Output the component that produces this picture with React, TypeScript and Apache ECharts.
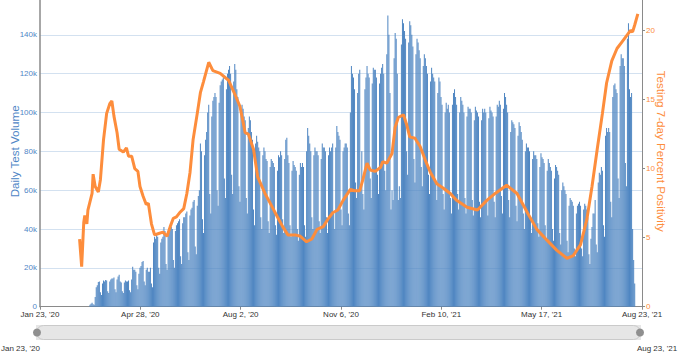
import React, { useEffect, useRef } from 'react';
import * as echarts from 'echarts';

// x axis: day index from Jan 23, 2020 (0) to Aug 23, 2021 (578)
const totalDays = 578;
const xTickLabels = ["Jan 23, '20", "Apr 28, '20", "Aug 2, '20", "Nov 6, '20", "Feb 10, '21", "May 17, '21", "Aug 23, '21"];

// Daily test volume in thousands, one row per week (Thu..Wed)
const testsWeeksA = [
  [0, 0, 0, 0, 0, 0, 0], [0, 0, 0, 0, 0, 0, 0], [0, 0, 0, 0, 0, 0, 0], [0, 0, 0, 0, 0, 0, 0],
  [0, 0, 0, 0, 0, 0, 0], [0, 0, 0, 0, 0, 0, 0], [0, 0, 0, 0, 0, 0, 1],
  [1.5, 2, 1.2, 1, 5, 10, 11],
  [12.7, 13, 7.5, 6, 12, 13.5, 13],
  [13.8, 13.5, 8, 7, 13, 14, 14.5],
  [14.5, 15, 9, 7.5, 14, 15.5, 16.5],
  [13, 12.5, 8, 7, 12.5, 13.5, 13],
  [13, 13.5, 8.5, 7.5, 14, 20.6, 19],
  [19, 18, 11, 9, 17, 20, 21],
  [23, 23.5, 13, 11, 19, 20, 18],
  [18, 20, 12, 10, 33, 36, 35],
  [37.5, 36, 20, 17, 33, 35, 36],
  [41, 39, 22, 19, 38, 40, 41],
  [41, 40, 24, 20, 39, 42, 43],
  [44, 45, 26, 22, 43, 46, 46],
  [48, 49, 28, 24, 47, 50, 51],
  [54, 55, 31, 27, 52, 57, 60],
  [84, 80, 45, 38, 78, 86, 90],
];
const testsWeeksB = [
  [100, 104, 58, 48, 98, 106, 108],
  [110, 108, 60, 52, 105, 114, 116],
  [117, 118, 66, 56, 112, 120, 122],
  [124, 120, 68, 58, 116, 125, 122],
  [112, 108, 62, 54, 100, 104, 102],
  [98, 96, 56, 48, 92, 98, 96],
  [90, 86, 50, 42, 84, 88, 85],
  [82, 80, 46, 40, 78, 82, 80],
  [76, 75, 44, 38, 72, 76, 75],
  [74, 72, 42, 37, 70, 78, 77],
  [80, 78, 45, 38, 76, 86, 87],
  [78, 74, 42, 36, 70, 75, 73],
  [72, 70, 40, 34, 68, 74, 72],
  [74, 72, 42, 36, 80, 92, 88],
  [84, 80, 46, 40, 78, 82, 80],
  [80, 78, 44, 38, 76, 84, 82],
  [82, 80, 46, 38, 78, 82, 80],
  [82, 84, 48, 40, 82, 93, 90],
  [88, 86, 50, 42, 80, 82, 84],
  [84, 82, 48, 42, 100, 124, 120],
  [118, 112, 64, 56, 110, 120, 122],
  [60, 80, 58, 50, 112, 118, 124],
  [120, 118, 66, 56, 115, 123, 122],
  [122, 118, 68, 58, 115, 120, 123],
  [125, 120, 70, 60, 130, 150, 140],
  [110, 50, 60, 55, 128, 141, 138],
];
const testsWeeksC = [
  [120, 55, 62, 56, 135, 148, 146],
  [142, 138, 80, 68, 136, 147, 145],
  [140, 134, 76, 64, 130, 138, 136],
  [132, 128, 72, 62, 124, 130, 128],
  [124, 120, 68, 58, 116, 123, 120],
  [118, 116, 64, 55, 110, 118, 116],
  [108, 104, 58, 50, 100, 105, 102],
  [104, 100, 56, 48, 104, 110, 112],
  [108, 104, 58, 50, 100, 108, 106],
  [104, 100, 56, 48, 98, 103, 102],
  [102, 100, 55, 47, 96, 103, 101],
  [100, 98, 54, 46, 96, 102, 100],
  [102, 100, 55, 47, 97, 103, 101],
  [100, 98, 54, 46, 98, 104, 103],
  [106, 104, 57, 48, 102, 110, 108],
  [104, 100, 55, 46, 90, 96, 95],
  [94, 92, 52, 44, 88, 95, 93],
  [90, 86, 48, 40, 80, 84, 82],
  [82, 80, 45, 38, 76, 80, 78],
  [78, 76, 43, 36, 72, 79, 77],
  [76, 74, 42, 35, 70, 76, 74],
  [72, 70, 40, 34, 66, 73, 72],
];
const testsWeeksD = [
  [70, 68, 38, 32, 60, 64, 62],
  [60, 58, 34, 28, 52, 56, 55],
  [54, 52, 30, 26, 48, 52, 53],
  [54, 52, 30, 26, 50, 53, 52],
  [50, 46, 27, 22, 35, 41, 48],
  [48, 55, 32, 28, 64, 69, 68],
  [72, 70, 42, 36, 88, 92, 90],
  [92, 90, 54, 46, 108, 114, 115],
  [112, 110, 66, 56, 124, 130, 128],
  [128, 124, 74, 62, 138, 146, 112],
  [108, 110, 40, 24, 12, 0, 0],
  [0, 0, 0, 0, 0],
];

// 7-day percent positivity: day index and value
const positivityDays = [
  38, 40, 42, 43, 45, 46, 50, 51, 53, 56, 58, 61, 64, 67, 69, 71, 74, 76, 80, 83,
  85, 88, 91, 94, 96, 99, 102, 104, 107, 110, 114, 118, 122, 125, 128, 131, 134, 138, 141, 144,
  147, 151, 154, 157, 162, 166, 173, 181, 187, 192, 197, 200, 205, 209, 216, 221, 228, 233, 238, 245,
  250, 256, 261, 266, 272, 277, 281, 286, 291, 298, 302, 307, 310, 314, 317, 322, 327, 329, 333, 338,
  341, 344, 349, 352, 355, 360, 365, 370, 375, 381, 387, 394, 400, 410, 420, 429, 437, 448, 458, 468,
  477, 487, 496, 506, 512, 519, 525, 530, 535, 540, 544, 549, 554, 559, 564, 567, 569, 571, 574,
];
const positivityValues = [
  4.9, 2.9, 6.1, 6.6, 6.0, 7.0, 8.2, 9.6, 8.7, 8.3, 9.2, 12.1, 14.0, 14.7, 14.9, 13.8, 12.6, 11.4, 11.2, 11.5,
  10.9, 10.9, 10.0, 9.8, 8.7, 8.0, 7.4, 7.5, 6.0, 5.2, 5.3, 5.4, 5.1, 5.8, 6.4, 6.5, 6.8, 7.1, 8.2, 9.7,
  12.1, 14.0, 15.5, 16.3, 17.7, 17.1, 16.9, 16.4, 15.4, 14.5, 12.6, 12.5, 11.4, 9.4, 8.2, 7.5, 6.5, 5.8, 5.2, 5.2,
  5.1, 4.7, 4.9, 5.6, 5.8, 6.4, 6.8, 7.0, 7.7, 8.5, 8.4, 8.4, 9.2, 10.4, 9.9, 9.8, 10.1, 10.5, 10.4, 11.1,
  13.0, 13.7, 13.9, 13.2, 12.3, 12.2, 11.6, 10.6, 9.7, 8.9, 8.6, 8.2, 7.7, 7.2, 7.0, 7.7, 8.2, 8.8, 8.2, 6.8,
  5.6, 4.8, 4.1, 3.5, 3.7, 4.5, 6.3, 8.7, 11.4, 14.0, 16.2, 17.8, 18.7, 19.2, 19.7, 20.0, 19.9, 20.4, 21.2,
];

const FONT = "'Liberation Sans', Arial, sans-serif";
const BLUE_TEXT = '#4f86c6';
const ORANGE = '#fd8d3c';

export default function App() {
  const ref = useRef<HTMLDivElement>(null);
  useEffect(() => {
    document.body.style.margin = '0';
    const chart = echarts.init(ref.current!, undefined, { renderer: 'svg' });
    const daily = [...testsWeeksA, ...testsWeeksB, ...testsWeeksC, ...testsWeeksD].flat();
    const barData = daily.map((v, i) => [i, v * 1000]);
    const lineData = positivityDays.map((d, i) => [d, positivityValues[i]]);
    const step = totalDays / 6;
    chart.setOption({
      animation: false,
      textStyle: { fontFamily: FONT },
      grid: { left: 40, right: 48, top: -4, bottom: 53.3, outerBoundsMode: 'none', containLabel: false },
      xAxis: {
        type: 'value', min: 0, max: totalDays, interval: step,
        axisLine: { show: true, lineStyle: { color: '#8a8a8a', width: 1 } },
        axisTick: { show: true, length: 3, lineStyle: { color: '#8a8a8a' } },
        axisLabel: {
          fontSize: 8, color: '#333', margin: 4, fontFamily: FONT,
          formatter: (v: number) => xTickLabels[Math.round(v / step)] ?? '',
        },
        splitLine: { show: false },
      },
      yAxis: [
        {
          type: 'value', min: 0, max: 160000, interval: 20000, position: 'left',
          name: 'Daily Test Volume', nameLocation: 'middle', nameGap: 20, nameMoveOverlap: false,
          nameTextStyle: { color: BLUE_TEXT, fontSize: 11.6, fontFamily: FONT },
          axisLine: { show: true, lineStyle: { color: '#8a8a8a', width: 1.5 } },
          axisTick: { show: false },
          axisLabel: {
            fontSize: 8, color: BLUE_TEXT, margin: 3, fontFamily: FONT, showMaxLabel: false,
            formatter: (v: number) => (v === 0 ? '0' : v / 1000 + 'k'),
          },
          splitLine: { show: true, lineStyle: { color: '#d3e1f0', width: 1 } },
        },
        {
          type: 'value', min: 0, max: 22.5, interval: 5, position: 'right',
          name: 'Testing 7-day Percent Positivity', nameLocation: 'middle', nameRotate: -90, nameGap: 13,
          nameMoveOverlap: false,
          nameTextStyle: { color: ORANGE, fontSize: 11.6, fontFamily: FONT },
          axisLine: { show: true, lineStyle: { color: '#8a8a8a', width: 1 } },
          axisTick: { show: true, length: 3, lineStyle: { color: '#8a8a8a' } },
          axisLabel: { fontSize: 8, color: ORANGE, margin: 4, showMaxLabel: false, fontFamily: FONT },
          splitLine: { show: false },
        },
      ],
      dataZoom: [
        {
          type: 'slider', xAxisIndex: 0, start: 0, end: 100, filterMode: 'none',
          left: 35, right: 50, top: 325, height: 15,
          backgroundColor: '#e6e6e6', borderColor: '#cacaca', borderRadius: 7.5,
          fillerColor: 'rgba(0,0,0,0)',
          showDataShadow: false, showDetail: false, brushSelect: false,
          moveHandleSize: 0, moveHandleStyle: { opacity: 0 },
          handleIcon: 'circle', handleSize: 8,
          handleStyle: { color: '#8f8f8f', borderWidth: 0 },
          emphasis: { handleStyle: { color: '#8f8f8f', borderWidth: 0 }, moveHandleStyle: { opacity: 0 } },
          dataBackground: { lineStyle: { opacity: 0 }, areaStyle: { opacity: 0 } },
          selectedDataBackground: { lineStyle: { opacity: 0 }, areaStyle: { opacity: 0 } },
        },
      ],
      graphic: [
        {
          type: 'text', x: 1, y: 348, silent: true,
          style: { text: xTickLabels[0], fill: '#333', fontSize: 8, fontFamily: FONT, align: 'left', verticalAlign: 'middle' },
        },
        {
          type: 'text', x: 657, y: 348, silent: true,
          style: { text: xTickLabels[6], fill: '#333', fontSize: 8, fontFamily: FONT, align: 'center', verticalAlign: 'middle' },
        },
      ],
      series: [
        {
          type: 'bar', name: 'Daily Test Volume', data: barData, yAxisIndex: 0,
          barWidth: 0.65, itemStyle: { color: '#4f86c2' },
        },
        {
          type: 'line', name: 'Testing 7-day Percent Positivity', data: lineData, yAxisIndex: 1,
          showSymbol: false, symbol: 'none', lineStyle: { color: ORANGE, width: 3 }, itemStyle: { color: ORANGE },
        },
      ],
    });
    return () => chart.dispose();
  }, []);
  return <div ref={ref} style={{ width: 690, height: 360 }} />;
}
